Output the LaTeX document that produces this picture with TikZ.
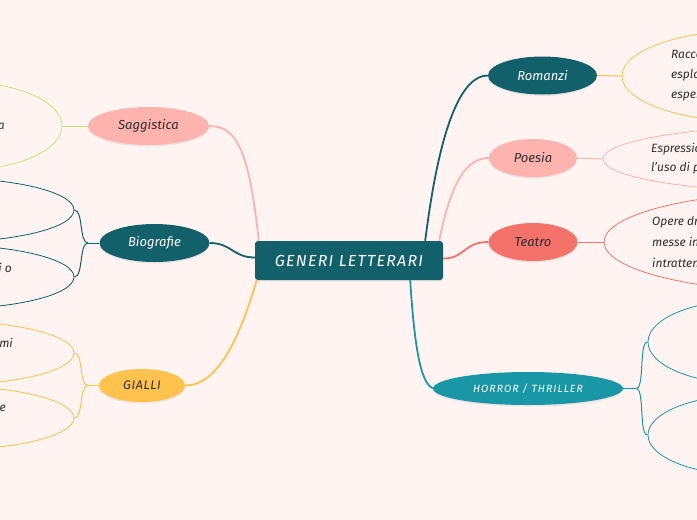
\documentclass[tikz,border=0pt]{standalone}
\usepackage{fontspec}
\setmainfont{Fira Sans}
\usetikzlibrary{shapes.geometric,shadows}

\definecolor{sfondo}{HTML}{FFF4F2}
\definecolor{tealscuro}{HTML}{11606A}
\definecolor{tealchiaro}{HTML}{1A97A6}
\definecolor{rosa}{HTML}{FFB3AE}
\definecolor{corallo}{HTML}{F5726B}
\definecolor{giallo}{HTML}{FFC24C}
\definecolor{verde}{HTML}{C4E670}
\definecolor{testoscuro}{HTML}{2E2E2E}

\begin{document}
\begin{tikzpicture}[
  x=1pt, y=-1pt,
  centrale/.style={rectangle, rounded corners=3pt, fill=tealscuro, text=white, minimum width=188pt, minimum height=39pt, font=\fontsize{16}{18}\selectfont\itshape\addfontfeature{LetterSpace=8}, drop shadow={opacity=0.15, shadow xshift=0pt, shadow yshift=-1.5pt}},
  ramo/.style={ellipse, inner sep=0pt, minimum height=38pt, text=testoscuro, font=\fontsize{13}{15}\selectfont\itshape, drop shadow={opacity=0.15, shadow xshift=0pt, shadow yshift=-1.5pt}},
  foglia/.style={ellipse, draw, line width=0.8pt, inner sep=0pt},
  testo/.style={align=left, inner sep=0pt, text=testoscuro, font=\fontsize{12}{20}\selectfont\itshape},
  conn/.style={line width=1.8pt},
  fconn/.style={line width=1pt}
]

  % Sfondo e cornice
  \clip (0,0) rectangle (697,520);
  \fill[sfondo] (0,0) rectangle (697,520);

  % Nodo centrale
  \node[centrale] (gl) at (349,260.5) {GENERI LETTERARI};

  % Rami a destra
  \node[ramo, fill=tealscuro, text=white, minimum width=109pt] (rom) at (542.5,75.5) {Romanzi};
  \node[ramo, fill=rosa, minimum width=88pt] (poe) at (533,158) {Poesia};
  \node[ramo, fill=corallo, minimum width=89pt] (tea) at (533,242) {Teatro};
  \node[ramo, fill=tealchiaro, text=white, minimum width=190pt, minimum height=33pt, font=\fontsize{10.5}{12}\selectfont\itshape\addfontfeature{LetterSpace=10}] (hor) at (528,388.5) {HORROR / THRILLER};

  % Rami a sinistra
  \node[ramo, fill=rosa, minimum width=121pt] (sag) at (148.5,126) {Saggistica};
  \node[ramo, fill=tealscuro, text=white, minimum width=110pt] (bio) at (154.5,243) {Biografie};
  \node[ramo, fill=giallo, minimum width=86pt, minimum height=33pt, font=\fontsize{12.5}{14}\selectfont\itshape\addfontfeature{LetterSpace=5}] (gia) at (142,385.5) {GIALLI};

  % Foglie (tagliate dal bordo)
  \node[foglia, draw=giallo, minimum width=260pt, minimum height=92pt] (romN) at (752,76) {};
  \node[foglia, draw=rosa, minimum width=400pt, minimum height=66pt] (poeN) at (803,159) {};
  \node[foglia, draw=corallo, minimum width=400pt, minimum height=100pt] (teaN) at (804,242) {};
  \node[foglia, draw=tealchiaro, minimum width=200pt, minimum height=84pt] (horN1) at (748,342) {};
  \node[foglia, draw=tealchiaro, minimum width=200pt, minimum height=80pt] (horN2) at (748,435) {};
  \node[foglia, draw=verde, minimum width=200pt, minimum height=88pt] (sagN) at (-38,126) {};
  \node[foglia, draw=tealscuro, minimum width=260pt, minimum height=64pt] (bioN1) at (-56,210) {};
  \node[foglia, draw=tealscuro, minimum width=260pt, minimum height=64pt] (bioN2) at (-56,277) {};
  \node[foglia, draw=giallo, minimum width=260pt, minimum height=64pt] (giaN1) at (-56,353) {};
  \node[foglia, draw=giallo, minimum width=260pt, minimum height=64pt] (giaN2) at (-56,418) {};

  % Testi delle foglie
  \node[testo, anchor=west] (romT) at (671,76) {Racco\\esplo\\esper};
  \node[testo, anchor=west, font=\fontsize{12}{19}\selectfont\itshape] (poeT) at (651,158.5) {Espressio\\l'uso di p};
  \node[testo, anchor=west, font=\fontsize{12}{21}\selectfont\itshape] (teaT) at (652,242) {Opere dra\\messe in\\intratten};
  \node[testo, anchor=east] (sagT) at (5,126) {a};
  \node[testo, anchor=east] (bioT) at (12,268) {i o};
  \node[testo, anchor=east] (giaT1) at (13,343) {mi};
  \node[testo, anchor=east] (giaT2) at (6,408) {e};

  % Collegamenti dal centro
  \draw[conn, tealscuro] ([xshift=-18pt]gl.north east) .. controls +(15,-120) and +(-25,0) .. (rom.west);
  \draw[conn, rosa] ([xshift=-4pt]gl.north east) .. controls +(12,-60) and +(-22,0) .. (poe.west);
  \draw[conn, corallo] ([yshift=2pt]gl.east) .. controls +(22,0) and +(-25,0) .. (tea.west);
  \draw[conn, tealchiaro] ([xshift=-33pt]gl.south east) .. controls +(5,80) and +(-10,-5) .. (hor.west);
  \draw[conn, rosa] ([xshift=4pt]gl.north west) .. controls +(-10,-90) and +(28,0) .. (sag.east);
  \draw[conn, tealscuro] ([yshift=3pt]gl.west) .. controls +(-22,0) and +(22,0) .. (bio.east);
  \draw[conn, giallo] ([xshift=2pt]gl.south west) .. controls +(-15,50) and +(35,0) .. (gia.east);

  % Collegamenti alle foglie
  \draw[fconn, giallo] (rom.east) -- (romN.west);
  \draw[fconn, rosa] (poe.east) -- (poeN.west);
  \draw[fconn, corallo] (tea.east) -- (teaN.west);
  \draw[fconn, verde] (sag.west) -- (sagN.east);

  \coordinate (horB) at (636,388.5);
  \draw[fconn, tealchiaro] (hor.east) -- (horB);
  \draw[fconn, tealchiaro] (horB) .. controls +(9,0) and +(-9,0) .. (horN1.west);
  \draw[fconn, tealchiaro] (horB) .. controls +(9,0) and +(-9,0) .. (horN2.west);

  \coordinate (bioB) at (88,243);
  \draw[fconn, tealscuro] (bio.west) -- (bioB);
  \draw[fconn, tealscuro] (bioB) .. controls +(-9,0) and +(9,0) .. (bioN1.east);
  \draw[fconn, tealscuro] (bioB) .. controls +(-9,0) and +(9,0) .. (bioN2.east);

  \coordinate (giaB) at (88,385.5);
  \draw[fconn, giallo] (gia.west) -- (giaB);
  \draw[fconn, giallo] (giaB) .. controls +(-9,0) and +(9,0) .. (giaN1.east);
  \draw[fconn, giallo] (giaB) .. controls +(-9,0) and +(9,0) .. (giaN2.east);

\end{tikzpicture}
\end{document}
